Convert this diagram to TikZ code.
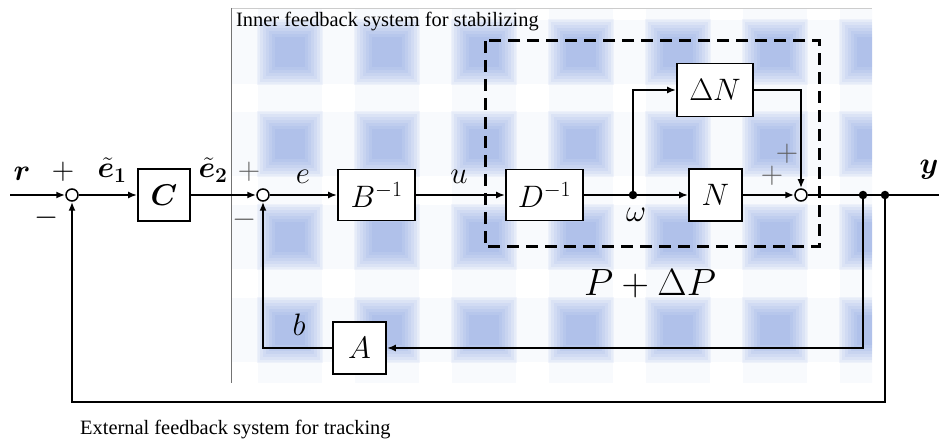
\RequirePackage{fix-cm}
\documentclass[tikz,border=0pt]{standalone}
\usepackage{fontspec}
\setmainfont{Liberation Serif}
\usepackage{amsmath,bm}
\usetikzlibrary{arrows.meta}
\definecolor{bgblue}{RGB}{70,110,205}
\definecolor{signgray}{RGB}{95,95,95}
\newcommand{\mathsz}{\fontsize{31}{33}\selectfont}
\newcommand{\boldsz}{\fontsize{30}{32}\selectfont}
\newcommand{\bigsz}{\fontsize{38}{40}\selectfont}
\newcommand{\capsz}{\fontsize{20.4}{22}\selectfont}
\begin{document}
\begin{tikzpicture}[x=1pt,y=-1pt,
  wire/.style={line width=1.8pt},
  sig/.style={line width=1.8pt,-{Latex[length=9pt,width=7pt]}},
  blk/.style={draw,line width=1.8pt,fill=white,inner sep=0pt,font=\mathsz},
  sumj/.style={circle,draw,fill=white,line width=1.5pt,minimum size=12pt,inner sep=0pt},
  dotj/.style={circle,fill=black,minimum size=8.5pt,inner sep=0pt},
  lbl/.style={inner sep=0pt,font=\mathsz},
  blbl/.style={inner sep=0pt,font=\boldsz},
  sgn/.style={inner sep=0pt,font=\mathsz},
  gsgn/.style={inner sep=0pt,font=\mathsz,text=signgray}]
\useasboundingbox (0,0) rectangle (939,443);

% ---- shaded backdrop of the inner loop ----
\begin{scope}
  \clip (232,9) rectangle (872,383);
  \foreach \cy in {52,144,237,330}
    \fill[bgblue,opacity=0.035] (232,\cy-32) rectangle (872,\cy+32);
  \foreach \cx in {290,387,...,872}
    \fill[bgblue,opacity=0.035] (\cx-32,9) rectangle (\cx+32,383);
  \foreach \cx in {290,387,...,872}
    \foreach \cy in {52,144,237,330}
      \foreach \s in {33,30,27,24,21,18,15}
        \fill[bgblue,opacity=0.065] (\cx-\s,\cy-\s) rectangle (\cx+\s,\cy+\s);
\end{scope}
\draw[line width=1.5pt,black!55] (231.5,8) -- (231.5,383);
\draw[line width=0.6pt,black!20] (231.5,8.5) -- (872,8.5);
\node[anchor=west,inner sep=0pt,font=\capsz] (innercap) at (236,22) {Inner feedback system for stabilizing};

% ---- perturbed plant boundary ----
\draw[line width=3pt,dash pattern=on 12pt off 7pt] (485,41) rectangle (819,247);

% ---- blocks and junctions ----
\coordinate (in) at (10,195);
\node[sumj] (s1) at (72,195) {};
\node[blk,font=\boldsz,minimum width=52pt,minimum height=52pt] (C) at (164,195) {$\boldsymbol{C}$};
\node[sumj] (s2) at (263,195) {};
\node[blk,minimum width=77pt,minimum height=51pt] (B) at (376.5,195) {$B^{-1}$};
\node[blk,minimum width=77pt,minimum height=51pt] (D) at (544.5,195) {$D^{-1}$};
\node[dotj] (w) at (633,195) {};
\node[blk,minimum width=76pt,minimum height=53pt] (dN) at (715,90) {$\Delta N$};
\node[blk,minimum width=53pt,minimum height=52pt] (N) at (715.5,195) {$N$};
\node[sumj] (s3) at (801,195) {};
\node[dotj] (p1) at (863,195) {};
\node[dotj] (p2) at (885,195) {};
\coordinate (out) at (939,195);
\node[blk,minimum width=53pt,minimum height=52pt] (A) at (359.5,348) {$A$};
\coordinate (low) at (72,402);

% ---- connectors ----
\draw[sig] (in) -- (s1);
\draw[sig] (s1) -- (C);
\draw[sig] (C) -- (s2);
\draw[sig] (s2) -- (B);
\draw[sig] (B) -- (D);
\draw[wire] (D) -- (w);
\draw[sig] (w) -- (N);
\draw[sig] (w) |- (dN);
\draw[sig] (dN) -| (s3);
\draw[sig] (N) -- (s3);
\draw[wire] (s3) -- (p1) -- (p2) -- (out);
\draw[sig] (p1) |- (A);
\draw[sig] (A) -| (s2);
\draw[sig] (p2) |- (low) -- (s1);

% ---- signal labels ----
\node[blbl] (lr) at (22,174) {$\boldsymbol{r}$};
\node[sgn] (s1p) at (63,172) {$+$};
\node[sgn] (s1m) at (47,218) {$-$};
\node[blbl] (le1) at (112,170) {$\boldsymbol{\tilde{e}_1}$};
\node[blbl] (le2) at (213,170) {$\boldsymbol{\tilde{e}_2}$};
\node[gsgn] (s2p) at (249,172) {$+$};
\node[gsgn] (s2m) at (245,220) {$-$};
\node[lbl] (le) at (303,177) {$e$};
\node[lbl] (lu) at (459,177) {$u$};
\node[lbl] (lw) at (636,215) {$\omega$};
\node[gsgn] (s3a) at (787,154) {$+$};
\node[gsgn] (s3b) at (772,176) {$+$};
\node[blbl] (ly) at (929,170) {$\boldsymbol{y}$};
\node[lbl] (lb) at (299,325) {$b$};
\node[inner sep=0pt,font=\bigsz] (lp) at (650,284) {$P+\Delta P$};
\node[anchor=west,inner sep=0pt,font=\capsz] (extcap) at (80,430) {External feedback system for tracking};
\end{tikzpicture}
\end{document}
